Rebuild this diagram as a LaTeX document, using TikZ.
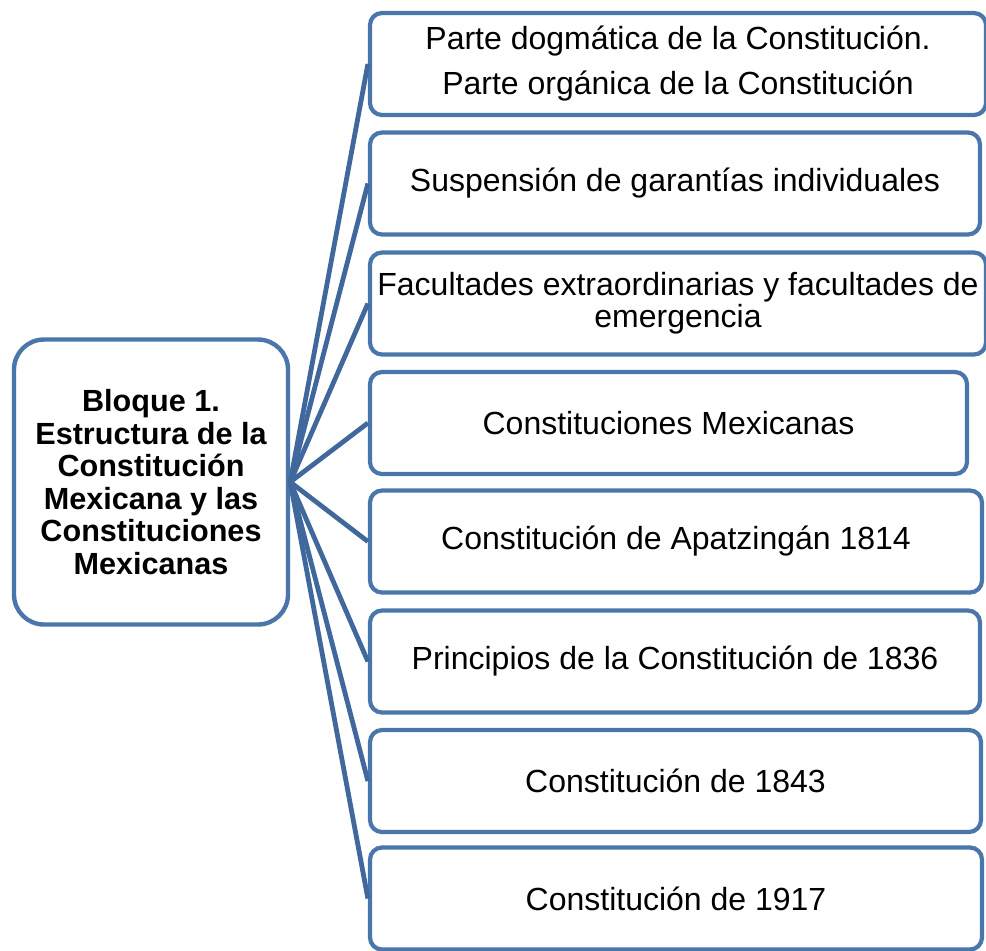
\documentclass[tikz,border=0pt]{standalone}
\usepackage{fontspec}
\setmainfont{Liberation Sans}
\definecolor{bordeazul}{RGB}{74,118,172}
\definecolor{lineaazul}{RGB}{64,104,156}

\begin{document}
\begin{tikzpicture}[x=0.5pt, y=-0.5pt,
    raiz/.style={draw=bordeazul, line width=2.2pt, rounded corners=15pt, fill=white,
        minimum width=137pt, minimum height=142.5pt, align=center, inner sep=1pt,
        font=\fontsize{15.3}{16.3}\selectfont\bfseries},
    tema/.style={draw=bordeazul, line width=2.1pt, rounded corners=6pt, fill=white,
        minimum height=51pt, align=center, inner sep=1pt,
        font=\fontsize{16}{16}\selectfont},
    rama/.style={draw=lineaazul, line width=2.4pt}]
    \useasboundingbox (0,0) rectangle (986,950);
    %\draw[help lines] (0,0) grid[step=50] (986,950);
    \node[raiz] (bloque) at (151,482) {Bloque 1.\\Estructura de la\\Constitución\\Mexicana y las\\Constituciones\\Mexicanas};
    \node[tema, minimum width=308pt] (partes) at (678,64) {Parte dogmática de la Constitución.\\[6.5pt]Parte orgánica de la Constitución};
    \node[tema, minimum width=305pt] (suspension) at (675,183.5) {Suspensión de garantías individuales};
    \node[tema, minimum width=308pt] (facultades) at (678,303.5) {Facultades extraordinarias y facultades de\\emergencia};
    \node[tema, minimum width=298.5pt] (mexicanas) at (668.5,423) {Constituciones Mexicanas};
    \node[tema, minimum width=306pt] (apatzingan) at (676,541.5) {Constitución de Apatzingán 1814};
    \node[tema, minimum width=305pt] (principios) at (675,661.5) {Principios de la Constitución de 1836};
    \node[tema, minimum width=305.5pt] (c1843) at (675.5,781) {Constitución de 1843};
    \node[tema, minimum width=306pt] (c1917) at (676,898.5) {Constitución de 1917};
    \draw[rama] (bloque.east) -- (partes.west);
    \draw[rama] (bloque.east) -- (suspension.west);
    \draw[rama] (bloque.east) -- (facultades.west);
    \draw[rama] (bloque.east) -- (mexicanas.west);
    \draw[rama] (bloque.east) -- (apatzingan.west);
    \draw[rama] (bloque.east) -- (principios.west);
    \draw[rama] (bloque.east) -- (c1843.west);
    \draw[rama] (bloque.east) -- (c1917.west);
\end{tikzpicture}
\end{document}
